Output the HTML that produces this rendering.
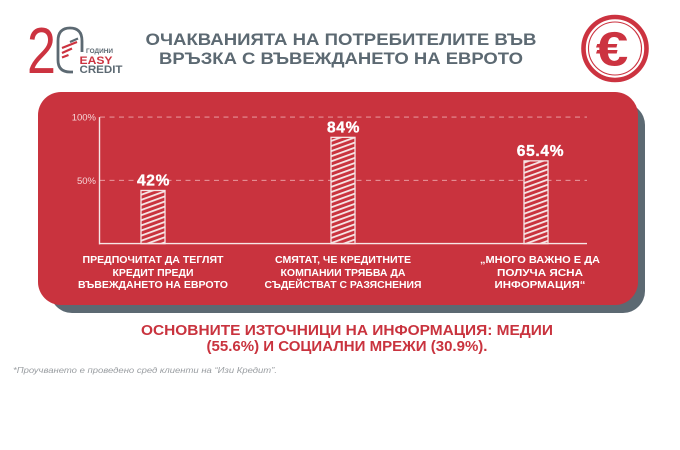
<!DOCTYPE html>
<html lang="bg">
<head>
<meta charset="utf-8">
<style>
html,body{margin:0;padding:0;background:#fff;}
body{width:680px;height:450px;overflow:hidden;}
svg{display:block;}
text{font-family:"Liberation Sans","DejaVu Sans",sans-serif;}
</style>
</head>
<body>
<svg id="chart" xmlns="http://www.w3.org/2000/svg" width="680" height="450" viewBox="0 0 680 450">
  <defs>
    <pattern id="hatch" patternUnits="userSpaceOnUse" width="24" height="4.8" patternTransform="rotate(-20)">
      <rect width="24" height="1.8" fill="#f7e6e6"/>
    </pattern>
  </defs>
  <rect width="680" height="450" fill="#ffffff"/>

  <g>
    <text transform="translate(27 73) scale(0.8 1)" x="0" y="0" font-size="65" fill="#cc3340">2</text>
    <path d="M73 72 H70 Q58 72 58 60 V41 Q58 28 70 28 Q82 28 82 41 V52" fill="none" stroke="#5c6972" stroke-width="2.8"/>
    <path d="M62 48 L77 42 M62 53 L72 48.5 M62 57.5 L68.5 55" stroke="#cc3340" stroke-width="2.2" fill="none"/>
    <path d="M70 42 L78 38.5" stroke="#5c6972" stroke-width="2.2" fill="none"/>
    <text x="86" y="53" font-size="6.6" font-weight="700" fill="#5c6972" textLength="27" lengthAdjust="spacingAndGlyphs">ГОДИНИ</text>
    <text x="79.5" y="63.8" font-size="11" font-weight="700" fill="#cc3340" textLength="33" lengthAdjust="spacingAndGlyphs">EASY</text>
    <text x="79.5" y="73" font-size="11" font-weight="700" fill="#5c6972" textLength="43" lengthAdjust="spacingAndGlyphs">CREDIT</text>
  </g>

  <text x="341" y="45" font-size="16.5" font-weight="700" fill="#5c6972" text-anchor="middle" textLength="391" lengthAdjust="spacingAndGlyphs">ОЧАКВАНИЯТА НА ПОТРЕБИТЕЛИТЕ ВЪВ</text>
  <text x="341" y="64" font-size="16.5" font-weight="700" fill="#5c6972" text-anchor="middle" textLength="364" lengthAdjust="spacingAndGlyphs">ВРЪЗКА С ВЪВЕЖДАНЕТО НА ЕВРОТО</text>

  <g>
    <circle cx="615" cy="48.5" r="31.5" fill="none" stroke="#cc3340" stroke-width="4.6"/>
    <circle cx="615" cy="48.5" r="26.5" fill="none" stroke="#cc3340" stroke-width="1.1"/>
    <text transform="translate(612 65.5) scale(1.22 1)" x="0" y="0" font-size="48" font-weight="700" fill="#cc3340" text-anchor="middle">€</text>
  </g>

  <rect x="50" y="103" width="595" height="210" rx="22" fill="#5c6972"/>
  <rect x="38" y="92" width="600" height="213" rx="23" fill="#c9333e"/>

  <g id="plot"></g>

  <g font-size="10.4" font-weight="700" fill="#ffffff" text-anchor="middle">
    <text x="153" y="263" textLength="141" lengthAdjust="spacingAndGlyphs">ПРЕДПОЧИТАТ ДА ТЕГЛЯТ</text>
    <text x="153" y="276" textLength="81" lengthAdjust="spacingAndGlyphs">КРЕДИТ ПРЕДИ</text>
    <text x="153" y="288" textLength="150" lengthAdjust="spacingAndGlyphs">ВЪВЕЖДАНЕТО НА ЕВРОТО</text>
    <text x="343" y="263" textLength="136" lengthAdjust="spacingAndGlyphs">СМЯТАТ, ЧЕ КРЕДИТНИТЕ</text>
    <text x="343" y="276" textLength="125" lengthAdjust="spacingAndGlyphs">КОМПАНИИ ТРЯБВА ДА</text>
    <text x="343" y="288" textLength="157" lengthAdjust="spacingAndGlyphs">СЪДЕЙСТВАТ С РАЗЯСНЕНИЯ</text>
    <text x="540" y="263" textLength="120" lengthAdjust="spacingAndGlyphs">„МНОГО ВАЖНО Е ДА</text>
    <text x="540" y="276" textLength="86" lengthAdjust="spacingAndGlyphs">ПОЛУЧА ЯСНА</text>
    <text x="540" y="288" textLength="91" lengthAdjust="spacingAndGlyphs">ИНФОРМАЦИЯ“</text>
  </g>

  <text x="347" y="335" font-size="14.5" font-weight="700" fill="#c9333e" text-anchor="middle" textLength="412" lengthAdjust="spacingAndGlyphs">ОСНОВНИТЕ ИЗТОЧНИЦИ НА ИНФОРМАЦИЯ: МЕДИИ</text>
  <text x="347" y="351" font-size="14.5" font-weight="700" fill="#c9333e" text-anchor="middle" textLength="281" lengthAdjust="spacingAndGlyphs">(55.6%) И СОЦИАЛНИ МРЕЖИ (30.9%).</text>
  <text x="13" y="373" font-size="8.2" font-style="italic" fill="#9a9ea2" textLength="264" lengthAdjust="spacingAndGlyphs">*Проучването е проведено сред клиенти на “Изи Кредит”.</text>
</svg>
<script>
const categories = ['prefer-withdraw-credit', 'companies-should-assist', 'clear-information'];
const seriesValues = [42, 84, 65.4];
const valueLabels = ['42%', '84%', '65.4%'];
const tickValues = [100, 50];
const tickLabels = ['100%', '50%'];

const NS = 'http://www.w3.org/2000/svg';
const plot = document.getElementById('plot');
const yAxis = v => 243.6 - v * 1.265;
const xAxis = i => [153, 343, 536][i];
const labelShift = i => (i === 2 ? 4.5 : 0.5);
const BAR_W = 24;

function make(tag, attrs, text) {
  const el = document.createElementNS(NS, tag);
  Object.keys(attrs).forEach(k => el.setAttribute(k, attrs[k]));
  if (text !== undefined) el.textContent = text;
  plot.appendChild(el);
  return el;
}

tickValues.forEach((v, i) => {
  const line = make('line', {x1: 100, x2: 587, y1: yAxis(v), y2: yAxis(v), stroke: '#eda9ae', 'stroke-width': 0.9, 'stroke-dasharray': '5 4.5'});
  
  
  const label = make('text', {x: 96, y: yAxis(v) + 3.5, 'font-size': 9.5, fill: '#f6d6d8', 'text-anchor': 'end'}, tickLabels[i]);
  
  
});

const yLine = make('line', {x1: 99.5, x2: 99.5, y1: yAxis(100), y2: yAxis(0) + 0.8, stroke: '#f7e6e6', 'stroke-width': 1.4});



seriesValues.forEach((v, i) => {
  const cx = xAxis(i);
  const top = yAxis(v);
  const h = yAxis(0) - top;
  const backing = make('rect', {x: cx - BAR_W / 2, y: top, width: BAR_W, height: h, fill: '#c9333e'});
  
  
  const bar = make('rect', {x: cx - BAR_W / 2, y: top, width: BAR_W, height: h, fill: 'url(#hatch)', stroke: '#f7e6e6', 'stroke-width': 1.3});
  
  
  const val = make('text', {x: cx + labelShift(i), y: top - 5, 'font-size': 15.5, 'font-weight': 700, fill: '#ffffff', stroke: '#ffffff', 'stroke-width': 0.35, 'text-anchor': 'middle', 'letter-spacing': 0.7}, valueLabels[i]);
  
  
});

const xLine = make('line', {x1: 99, x2: 587, y1: yAxis(0), y2: yAxis(0), stroke: '#f7e6e6', 'stroke-width': 1.4});


</script>
</body>
</html>
